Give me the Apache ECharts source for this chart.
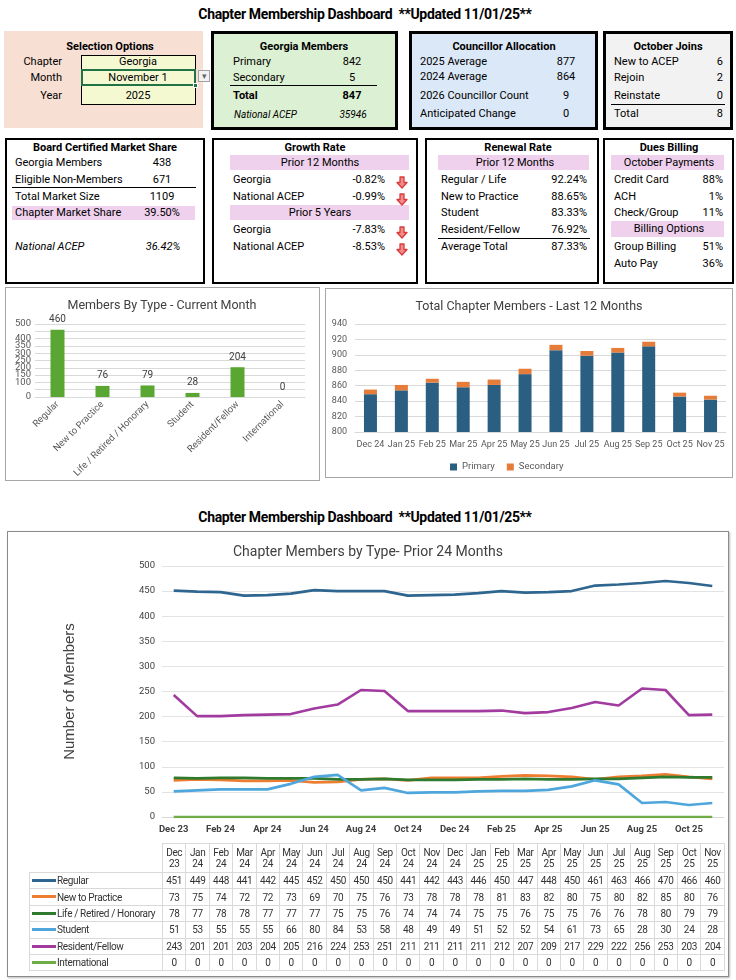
<!DOCTYPE html>
<html><head><meta charset="utf-8">
<script src="https://cdn.jsdelivr.net/npm/echarts@6/dist/echarts.min.js"></script>
<style>
html,body{margin:0;padding:0;background:#fff;}
body{width:736px;height:980px;position:relative;overflow:hidden;font-family:Roboto,"Open Sans",sans-serif;color:#000;}
.abs{position:absolute;}
.t{position:absolute;white-space:pre;height:16px;line-height:16px;font-size:11px;}
.bx{position:absolute;box-sizing:border-box;}
table.dt{position:absolute;border-collapse:collapse;table-layout:fixed;font-family:Roboto,sans-serif;font-size:10px;letter-spacing:-0.35px;color:#333;}
table.dt td{border:1px solid #d9d9d9;text-align:center;padding:0;overflow:hidden;white-space:nowrap;}
table.dt td.lab{text-align:left;padding-left:2px;}
table.dt tr.hd td{line-height:11px;}
table.dt td.blank{border:none;}
.key{display:inline-block;width:24px;height:3px;vertical-align:middle;margin-right:1px;margin-top:-2px;}
</style></head><body>
<div id="c1" class="abs" style="left:5px;top:287px;width:314px;height:194px;"></div>
<div id="c2" class="abs" style="left:325px;top:288px;width:408px;height:190px;"></div>
<div id="c3" class="abs" style="left:7px;top:531px;width:722px;height:446px;"></div>
<script>
// ---------- DATA ----------
const pageTitle = 'Chapter Membership Dashboard  **Updated 11/01/25**';
const selection = [['Chapter','Georgia'],['Month','November 1'],['Year','2025']];
const gaMembers = [['Primary','842'],['Secondary','5']];
const gaTotal = '847';
const gaNational = '35946';
const councillor = [['2025 Average','877'],['2024 Average','864'],['2026 Councillor Count','9'],['Anticipated Change','0']];
const octJoins = [['New to ACEP','6'],['Rejoin','2'],['Reinstate','0']];
const octTotal = '8';
const marketShare = [['Georgia Members','438'],['Eligible Non-Members','671'],['Total Market Size','1109'],['Chapter Market Share','39.50%']];
const marketNational = '36.42%';
const growth12 = [['Georgia','-0.82%'],['National ACEP','-0.99%']];
const growth5 = [['Georgia','-7.83%'],['National ACEP','-8.53%']];
const renewal = [['Regular / Life','92.24%'],['New to Practice','88.65%'],['Student','83.33%'],['Resident/Fellow','76.92%']];
const renewalAvg = '87.33%';
const payments = [['Credit Card','88%'],['ACH','1%'],['Check/Group','11%']];
const billing = [['Group Billing','51%'],['Auto Pay','36%']];

const typeNames = ['Regular','New to Practice','Life / Retired / Honorary','Student','Resident/Fellow','International'];
const currentTypes = [460,76,79,28,204,0];

const months12 = ['Dec 24','Jan 25','Feb 25','Mar 25','Apr 25','May 25','Jun 25','Jul 25','Aug 25','Sep 25','Oct 25','Nov 25'];
const primary = [849,854,864,858,861,875,906,899,903,911,846,842];
const secondary = [6,7,5,7,7,7,7,6,6,6,5,5];

const months24 = ['Dec 23','Jan 24','Feb 24','Mar 24','Apr 24','May 24','Jun 24','Jul 24','Aug 24','Sep 24','Oct 24','Nov 24',
                  'Dec 24','Jan 25','Feb 25','Mar 25','Apr 25','May 25','Jun 25','Jul 25','Aug 25','Sep 25','Oct 25','Nov 25'];
const regular   = [451,449,448,441,442,445,452,450,450,450,441,442,443,446,450,447,448,450,461,463,466,470,466,460];
const newPract  = [73,75,74,72,72,73,69,70,75,76,73,78,78,78,81,83,82,80,75,80,82,85,80,76];
const lifeRet   = [78,77,78,78,77,77,77,75,75,76,74,74,74,75,75,76,75,75,76,76,78,80,79,79];
const student   = [51,53,55,55,55,66,80,84,53,58,48,49,49,51,52,52,54,61,73,65,28,30,24,28];
const resident  = [243,201,201,203,204,205,216,224,253,251,211,211,211,211,212,207,209,217,229,222,256,253,203,204];
const intl      = [0,0,0,0,0,0,0,0,0,0,0,0,0,0,0,0,0,0,0,0,0,0,0,0];
const seriesNames = ['Regular','New to Practice','Life / Retired / Honorary','Student','Resident/Fellow','International'];
const seriesData = [regular,newPract,lifeRet,student,resident,intl];
const seriesColors = ['#2f6690','#ed7d31','#2e7a2e','#4ea6dc','#a23b9f','#70ad47'];

// ---------- helpers ----------
const NAR = 'Roboto,sans-serif';
function T(x,y,s,o){o=o||{};const d=document.createElement('div');d.className='t';d.textContent=s;d.style.top=(y-8)+'px';
  if(o.a==='r'){d.style.right=(736-x)+'px';}
  else if(o.a==='c'){d.style.left=(x-300)+'px';d.style.width='600px';d.style.textAlign='center';}
  else d.style.left=x+'px';
  if(o.b)d.style.fontWeight='bold'; if(o.i)d.style.fontStyle='italic'; if(o.fs)d.style.fontSize=o.fs+'px';
  if(o.ff)d.style.fontFamily=o.ff; if(o.c)d.style.color=o.c; if(o.ls)d.style.letterSpacing=o.ls+'px';
  document.body.appendChild(d);return d;}
function R(x,y,w,h,st){const d=document.createElement('div');d.className='bx';
  Object.assign(d.style,{left:x+'px',top:y+'px',width:w+'px',height:h+'px'},st||{});document.body.appendChild(d);return d;}
function HL(x1,x2,y,c){R(x1,y,x2-x1,1,{background:c||'#000'});}
function arrow(x,y){const d=document.createElement('div');d.className='abs';d.style.left=(x-6)+'px';d.style.top=(y-6)+'px';
  d.innerHTML='<svg width="12" height="13" viewBox="0 0 12 13"><path d="M4 1 H8 V6.5 H11 L6 12 L1 6.5 H4 Z" fill="#f38b8b" stroke="#d93b3b" stroke-width="1.3" stroke-linejoin="round"/></svg>';
  document.body.appendChild(d);}
const PINK = '#efd1ee';

// ---------- page titles ----------
T(365,14,pageTitle,{a:'c',b:true,fs:14,ls:-0.35});
T(365,517,pageTitle,{a:'c',b:true,fs:14,ls:-0.35});

// ---------- Selection options ----------
R(4,31,199,97,{background:'#f8dfd4'});
T(110,47,'Selection Options',{a:'c',b:true});
R(81,55,115,50,{background:'#f5f9d2',border:'1px solid #000'});
HL(81,196,69);HL(81,196,85);
R(81,69,115,17,{border:'2px solid #217346'});
R(193,83,5,5,{background:'#217346',border:'1px solid #fff'});
R(198,70,12,12,{background:'#f2f2f2',border:'1px solid #a0a0a0'});
T(204,76,'▾',{a:'c',fs:9,c:'#666'});
selection.forEach((r,i)=>{const y=[62,78,96][i];T(62,y,r[0],{a:'r'});T(138,y,r[1],{a:'c'});});

// ---------- Georgia Members ----------
R(211,31,187,99,{background:'#dcf0d3',border:'3px solid #000'});
T(304,47,'Georgia Members',{a:'c',b:true});
gaMembers.forEach((r,i)=>{const y=[62,78][i];T(233,y,r[0]);T(352,y,r[1],{a:'c'});});
HL(230,377,85);
T(233,96,'Total',{b:true});T(352,96,gaTotal,{a:'c',b:true});
T(234,115,'National ACEP',{i:true,fs:10});T(353,115,gaNational,{a:'c',i:true,fs:10});

// ---------- Councillor ----------
R(409,31,189,99,{background:'#dbe8f7',border:'3px solid #000'});
T(504,47,'Councillor Allocation',{a:'c',b:true});
councillor.forEach((r,i)=>{const y=[62,77,96,114][i];T(420,y,r[0]);T(566,y,r[1],{a:'c'});});

// ---------- October Joins ----------
R(603,31,130,99,{background:'#f2f2f2',border:'3px solid #000'});
T(668,47,'October Joins',{a:'c',b:true});
octJoins.forEach((r,i)=>{const y=[62,78,96][i];T(614,y,r[0]);T(723,y,r[1],{a:'r'});});
HL(611,725,104);
T(614,114,'Total');T(723,114,octTotal,{a:'r'});

// ---------- Market share ----------
R(5,138,200,146,{border:'2px solid #000'});
R(12,206,183,14,{background:PINK});
T(105,148,'Board Certified Market Share',{a:'c',b:true});
marketShare.forEach((r,i)=>{const y=[163,180,197,213][i];T(15,y,r[0]);T(162,y,r[1],{a:'c'});});
HL(12,196,187);
T(15,247,'National ACEP',{i:true});T(163,247,marketNational,{a:'c',i:true});

// ---------- Growth ----------
R(212,138,206,146,{border:'2px solid #000'});
R(230,155,179,15,{background:PINK});R(230,205,179,15,{background:PINK});
T(315,148,'Growth Rate',{a:'c',b:true});
T(320,163,'Prior 12 Months',{a:'c'});T(320,213,'Prior 5 Years',{a:'c'});
growth12.forEach((r,i)=>{const y=[180,197][i];T(233,y,r[0]);T(385,y,r[1],{a:'r'});arrow(402,y);});
growth5.forEach((r,i)=>{const y=[230,247][i];T(233,y,r[0]);T(385,y,r[1],{a:'r'});arrow(402,y);});

// ---------- Renewal ----------
R(425,138,174,146,{border:'2px solid #000'});
R(438,155,151,15,{background:PINK});
T(518,148,'Renewal Rate',{a:'c',b:true});
T(515,163,'Prior 12 Months',{a:'c'});
renewal.forEach((r,i)=>{const y=[180,197,213,230][i];T(441,y,r[0]);T(587,y,r[1],{a:'r'});});
HL(438,590,238);
T(441,247,'Average Total');T(587,247,renewalAvg,{a:'r'});

// ---------- Dues billing ----------
R(603,138,131,146,{border:'2px solid #000'});
R(611,155,113,15,{background:PINK});R(611,221,113,16,{background:PINK});
T(669,148,'Dues Billing',{a:'c',b:true});
T(669,163,'October Payments',{a:'c'});T(669,229,'Billing Options',{a:'c'});
payments.forEach((r,i)=>{const y=[180,197,213][i];T(614,y,r[0]);T(723,y,r[1],{a:'r'});});
billing.forEach((r,i)=>{const y=[247,264][i];T(614,y,r[0]);T(723,y,r[1],{a:'r'});});

// ---------- chart frames ----------
R(5,287,315,194,{border:'1px solid #a6a6a6'});
R(325,288,408,190,{border:'1px solid #a6a6a6'});
R(7,531,722,446,{border:'1px solid #8a8a8a',boxShadow:'1px 1px 2px #bbb'});

// ---------- chart 1 ----------
const ch1 = echarts.init(document.getElementById('c1'));
ch1.setOption({
  animation:false,
  title:{text:'Members By Type - Current Month',left:'center',top:7,textStyle:{fontSize:12.5,fontWeight:'normal',color:'#404040',fontFamily:NAR}},
  grid:{left:30,right:14,top:37,bottom:84,containLabel:false},
  xAxis:{type:'category',data:typeNames,axisLine:{lineStyle:{color:'#d9d9d9'}},axisTick:{show:false},
    axisLabel:{rotate:45,fontSize:9.5,color:'#595959',interval:0,margin:6,fontFamily:NAR}},
  yAxis:{type:'value',min:0,max:500,interval:50,
    axisLabel:{fontSize:9.5,color:'#595959',margin:4,fontFamily:NAR,hideOverlap:false,showMinLabel:true,showMaxLabel:true,lineHeight:9},
    splitLine:{lineStyle:{color:'#d9d9d9'}}},
  series:[{type:'bar',data:currentTypes,barWidth:14,itemStyle:{color:'#5aa632'},
    label:{show:true,position:'top',distance:5,fontSize:10,color:'#404040',fontFamily:NAR}}]
});

// ---------- chart 2 ----------
const ch2 = echarts.init(document.getElementById('c2'));
ch2.setOption({
  animation:false,
  title:{text:'Total Chapter Members - Last 12 Months',left:'center',top:7,textStyle:{fontSize:12.5,fontWeight:'normal',color:'#404040',fontFamily:NAR}},
  grid:{left:30,right:7,top:36,bottom:46},
  legend:{data:['Primary','Secondary'],left:120,top:169,itemWidth:7,itemHeight:7,itemGap:12,icon:'rect',
    textStyle:{fontSize:9.5,color:'#595959',fontFamily:NAR}},
  xAxis:{type:'category',data:months12,axisLine:{lineStyle:{color:'#d9d9d9'}},axisTick:{show:false},
    axisLabel:{fontSize:9,color:'#595959',interval:0,margin:8,fontFamily:NAR}},
  yAxis:{type:'value',min:800,max:940,interval:20,axisLabel:{fontSize:9,color:'#595959',margin:8,fontFamily:NAR},
    splitLine:{lineStyle:{color:'#d9d9d9'}}},
  series:[
    {name:'Primary',type:'bar',stack:'tot',data:primary,barWidth:13,itemStyle:{color:'#2b5f82'}},
    {name:'Secondary',type:'bar',stack:'tot',data:secondary,barWidth:13,itemStyle:{color:'#e57c3a'}}
  ]
});

// ---------- chart 3 ----------
const ch3 = echarts.init(document.getElementById('c3'));
ch3.setOption({
  animation:false,
  title:{text:'Chapter Members by Type- Prior 24 Months',left:'center',top:9,textStyle:{fontSize:14,fontWeight:'normal',color:'#404040',fontFamily:NAR}},
  grid:{left:155,right:5,top:35,bottom:160},
  xAxis:{type:'category',data:months24,boundaryGap:true,axisLine:{lineStyle:{color:'#d9d9d9'}},axisTick:{show:false},
    axisLabel:{interval:1,fontSize:9.5,color:'#404040',fontWeight:'bold',margin:8,fontFamily:NAR}},
  yAxis:{type:'value',min:0,max:500,interval:50,name:'Number of Members',nameLocation:'middle',nameGap:85,
    nameTextStyle:{fontSize:15,color:'#404040',fontFamily:'"Liberation Sans",Arial,sans-serif'},
    axisLabel:{fontSize:9.5,color:'#404040',margin:7,fontFamily:NAR},splitLine:{lineStyle:{color:'#e3e3e3'}}},
  series:seriesNames.map((n,i)=>({name:n,type:'line',data:seriesData[i],showSymbol:false,symbol:'none',
    lineStyle:{width:2.6,color:seriesColors[i]},itemStyle:{color:seriesColors[i]}}))
});

// ---------- data table ----------
(function(){
  const colW = 562/24;
  const tb = document.createElement('table'); tb.className='dt';
  tb.style.left='29px'; tb.style.top='843px'; tb.style.width=(133+562)+'px';
  let cg='<colgroup><col style="width:133px">'; for(let i=0;i<24;i++) cg+='<col style="width:'+colW+'px">'; cg+='</colgroup>';
  let h='<tr class="hd" style="height:29px"><td class="blank"></td>';
  months24.forEach(m=>{const p=m.split(' ');h+='<td>'+p[0]+'<br>'+p[1]+'</td>';}); h+='</tr>';
  seriesNames.forEach((n,i)=>{
    h+='<tr style="height:16.4px"><td class="lab"><span class="key" style="background:'+seriesColors[i]+'"></span>'+n+'</td>';
    seriesData[i].forEach(v=>{h+='<td>'+v+'</td>';}); h+='</tr>';
  });
  tb.innerHTML=cg+h; document.body.appendChild(tb);
})();
</script>
</body></html>
